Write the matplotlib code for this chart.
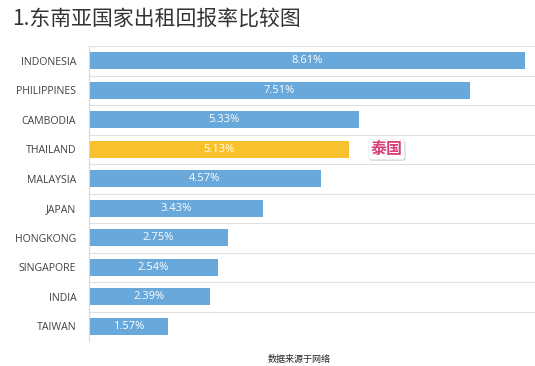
import matplotlib.pyplot as plt
from matplotlib import patheffects

plt.rcParams['font.family'] = ['Noto Sans CJK SC', 'DejaVu Sans']

countries = ['INDONESIA', 'PHILIPPINES', 'CAMBODIA', 'THAILAND', 'MALAYSIA',
             'JAPAN', 'HONGKONG', 'SINGAPORE', 'INDIA', 'TAIWAN']
rates = [8.61, 7.51, 5.33, 5.13, 4.57, 3.43, 2.75, 2.54, 2.39, 1.57]
highlight = 'THAILAND'

blue = '#68A8DA'
yellow = '#F8C22E'

fig = plt.figure(figsize=(5.35, 3.66), dpi=100)
ax = fig.add_axes([0.166, 0.068, 0.834, 0.806])

ypos = list(range(len(countries)))
colors = [yellow if c == highlight else blue for c in countries]
ax.barh(ypos, rates, height=0.58, color=colors, edgecolor='none', zorder=2)

for y, v in zip(ypos, rates):
    ax.text(v / 2, y, '%.2f%%' % v, ha='center', va='center',
            color='white', fontsize=8, family=['Open Sans', 'DejaVu Sans'], zorder=3)

ax.set_ylim(len(countries) - 0.5, -0.5)
ax.set_xlim(0, 8.8)
ax.set_yticks(ypos)
ax.set_yticklabels(countries, fontsize=7.6, color='#404040',
                   family=['Open Sans', 'DejaVu Sans'])
ax.tick_params(axis='y', length=0, pad=9)
ax.set_xticks([])

# horizontal lines between categories
for b in [i - 0.5 for i in range(len(countries) + 1)]:
    ax.axhline(b, color='#E0E0E0', lw=0.8, zorder=1)

for s in ['top', 'right', 'bottom']:
    ax.spines[s].set_visible(False)
ax.spines['left'].set_color('#D9D9D9')
ax.spines['left'].set_linewidth(0.8)

# callout for Thailand
ti = countries.index(highlight)
t = ax.text(rates[ti] + 0.42, ti, '泰国', ha='left', va='center',
            color='#D8407A', fontsize=11.5, fontweight='bold',
            bbox=dict(boxstyle='round,pad=0.12', fc='white', ec='#EEEEEE', lw=0.6),
            zorder=4)
t.get_bbox_patch().set_path_effects([patheffects.SimplePatchShadow(offset=(1, -1), alpha=0.25),
                                     patheffects.Normal()])

fig.text(0.022, 0.95, '1.东南亚国家出租回报率比较图', fontsize=15,
         color='#333333', ha='left', va='center')
fig.text(0.56, 0.018, '数据来源于网络', fontsize=6.5, color='#222222',
         ha='center', va='center')

fig.savefig('out.png', dpi=100)
